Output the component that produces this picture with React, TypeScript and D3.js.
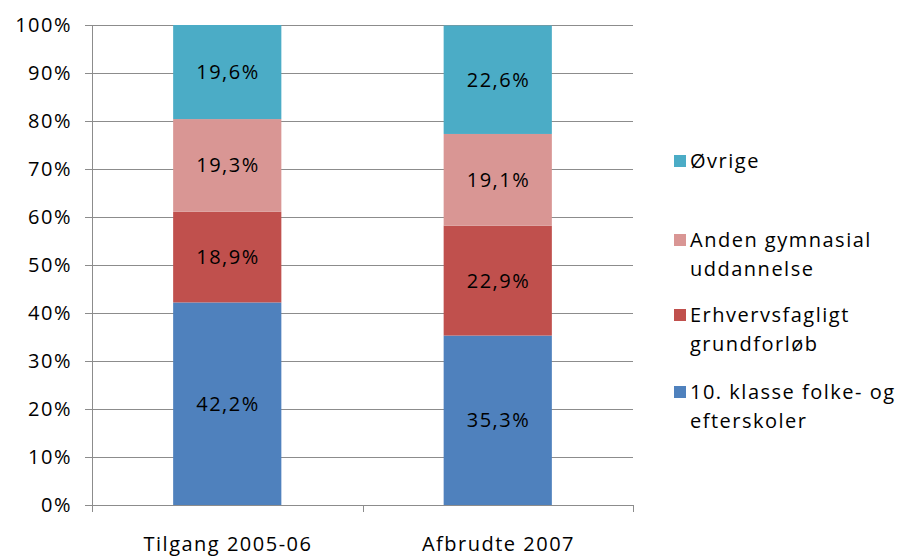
import * as d3 from "d3";

const CATEGORIES = ["Tilgang 2005-06", "Afbrudte 2007"];
const SERIES = [
  "10. klasse folke- og efterskoler",
  "Erhvervsfagligt grundforløb",
  "Anden gymnasial uddannelse",
  "Øvrige",
];
// values per series, in category order
const TENTH_GRADE = [42.2, 35.3];
const VOCATIONAL = [18.9, 22.9];
const OTHER_GYM = [19.3, 19.1];
const OTHERS = [19.6, 22.6];
const Y_TICKS = [0, 10, 20, 30, 40, 50, 60, 70, 80, 90, 100];

const LEGEND_LINES: string[][] = [
  ["Øvrige"],
  ["Anden gymnasial", "uddannelse"],
  ["Erhvervsfagligt", "grundforløb"],
  ["10. klasse folke- og", "efterskoler"],
];

const COLORS = ["#4F81BD", "#C0504D", "#D99694", "#4BACC6"];

const WIDTH = 901;
const HEIGHT = 557;
const MARGIN = { top: 25, right: 268, bottom: 52, left: 92 };
const FONT = "'Open Sans', Lato, sans-serif";
const FS = 20;
const LS = 1.5;

export default function App() {
  const seriesValues = [TENTH_GRADE, VOCATIONAL, OTHER_GYM, OTHERS];
  const rows = CATEGORIES.map((c, i) => {
    const row: Record<string, number | string> = { category: c };
    SERIES.forEach((s, j) => (row[s] = seriesValues[j][i]));
    return row;
  });
  const stacked = d3.stack<Record<string, number | string>>().keys(SERIES)(rows as any);

  const x = d3
    .scaleBand()
    .domain(CATEGORIES)
    .range([MARGIN.left, WIDTH - MARGIN.right])
    .padding(0);
  const barW = x.bandwidth() * 0.4;
  const y = d3
    .scaleLinear()
    .domain([0, 100])
    .range([HEIGHT - MARGIN.bottom, MARGIN.top]);

  const fmt = (v: number) => v.toFixed(1).replace(".", ",") + "%";

  return (
    <div style={{ position: "fixed", left: 0, top: 0, width: WIDTH, height: HEIGHT, overflow: "hidden" }}>
      <svg
        width={WIDTH}
        height={HEIGHT}
        style={{ display: "block", background: "#fff", letterSpacing: LS }}
        fontFamily={FONT}
      >
        {/* grid + y ticks */}
        {Y_TICKS.map((t) => (
          <g key={t}>
            <line
              x1={MARGIN.left - 7}
              x2={WIDTH - MARGIN.right}
              y1={Math.round(y(t)) + 0.5}
              y2={Math.round(y(t)) + 0.5}
              stroke="#8c8c8c"
              strokeWidth={1}
            />
            <text
              x={MARGIN.left - 20}
              y={y(t)}
              dy="0.35em"
              textAnchor="end"
              fontSize={FS}
              fill="#000"
            >
              {t}%
            </text>
          </g>
        ))}
        {/* y axis */}
        <line
          x1={MARGIN.left + 0.5}
          x2={MARGIN.left + 0.5}
          y1={MARGIN.top}
          y2={HEIGHT - MARGIN.bottom + 7}
          stroke="#8c8c8c"
        />
        {/* category ticks */}
        {CATEGORIES.map((c) => (
          <line
            key={c}
            x1={Math.round((x(c) ?? 0) + x.bandwidth()) + 0.5}
            x2={Math.round((x(c) ?? 0) + x.bandwidth()) + 0.5}
            y1={HEIGHT - MARGIN.bottom}
            y2={HEIGHT - MARGIN.bottom + 7}
            stroke="#8c8c8c"
          />
        ))}
        {/* bars */}
        {stacked.map((layer, si) => (
          <g key={layer.key}>
            {layer.map((d, ci) => {
              const cx = (x(CATEGORIES[ci]) ?? 0) + x.bandwidth() / 2;
              const y0 = y(d[0]);
              const y1 = y(d[1]);
              return (
                <g key={ci}>
                  <rect x={cx - barW / 2} y={y1} width={barW} height={y0 - y1} fill={COLORS[si]} />
                  <text
                    x={cx + LS / 2}
                    y={(y0 + y1) / 2}
                    dy="0.35em"
                    textAnchor="middle"
                    fontSize={FS}
                    fill="#000"
                  >
                    {fmt(seriesValues[si][ci])}
                  </text>
                </g>
              );
            })}
          </g>
        ))}
        {/* category labels */}
        {CATEGORIES.map((c) => (
          <text
            key={c}
            x={(x(c) ?? 0) + x.bandwidth() / 2 + LS / 2}
            y={HEIGHT - 6}
            textAnchor="middle"
            fontSize={FS}
            fill="#000"
          >
            {c}
          </text>
        ))}
        {/* legend */}
        {LEGEND_LINES.map((lines, i) => {
          const tops = [161, 240, 315, 392];
          const colorIdx = 3 - i;
          return (
            <g key={i}>
              <rect x={674} y={tops[i] - 6} width={12} height={12} fill={COLORS[colorIdx]} />
              {lines.map((l, li) => (
                <text key={li} x={690} y={tops[i] + li * 29} dy="0.35em" fontSize={FS} fill="#000">
                  {l}
                </text>
              ))}
            </g>
          );
        })}
      </svg>
    </div>
  );
}
